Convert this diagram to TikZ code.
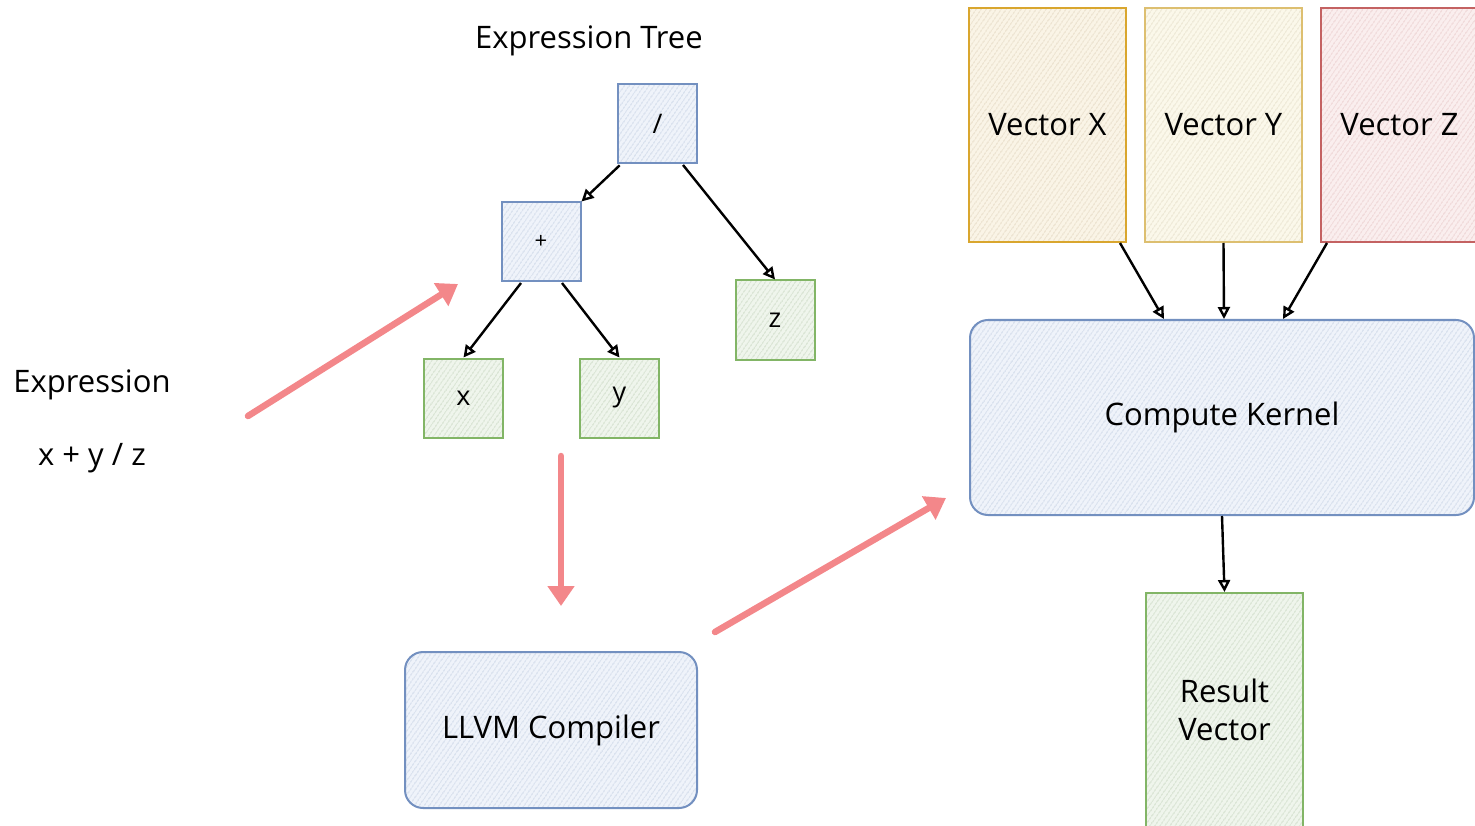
\documentclass[tikz,border=0pt]{standalone}
\usepackage{fontspec}
\setmainfont{Open Sans}
\usetikzlibrary{arrows.meta,patterns.meta}

\definecolor{bluedraw}{HTML}{7390C0}
\definecolor{bluefill}{HTML}{EFF3FA}
\definecolor{bluehatch}{HTML}{B9C6DD}
\definecolor{greendraw}{HTML}{82B566}
\definecolor{greenfill}{HTML}{EFF5EC}
\definecolor{greenhatch}{HTML}{BACCB1}
\definecolor{golddraw}{HTML}{D9A62E}
\definecolor{goldfill}{HTML}{FAF4E6}
\definecolor{goldhatch}{HTML}{D9CCB2}
\definecolor{yellowdraw}{HTML}{DDBF70}
\definecolor{yellowfill}{HTML}{FBF8EA}
\definecolor{yellowhatch}{HTML}{DAD2B9}
\definecolor{reddraw}{HTML}{C46262}
\definecolor{redfill}{HTML}{FAEEEE}
\definecolor{redhatch}{HTML}{E2BDBD}
\definecolor{flow}{HTML}{F3878A}

\tikzset{
  hatchbox/.style n args={3}{draw=#1, line width=2pt,
    preaction={fill=#2},
    pattern={Lines[angle=55,distance=4pt,line width=0.7pt]},
    pattern color=#3},
  opnode/.style={hatchbox={bluedraw}{bluefill}{bluehatch},
    minimum width=79pt, minimum height=79pt, inner sep=0pt, font=\fontsize{27}{32}\selectfont},
  leafnode/.style={hatchbox={greendraw}{greenfill}{greenhatch},
    minimum width=79pt, minimum height=79pt, inner sep=0pt, font=\fontsize{27}{32}\selectfont},
  vecbox/.style={minimum width=157pt, minimum height=234pt, inner sep=0pt,
    font=\fontsize{31}{38}\selectfont},
  roundbox/.style={hatchbox={bluedraw}{bluefill}{bluehatch}, rounded corners=18pt,
    inner sep=0pt, font=\fontsize{31}{38}\selectfont},
  label/.style={inner sep=0pt, font=\fontsize{31}{38}\selectfont},
  link/.style={line width=2.4pt, -{Triangle[open,length=12pt,width=12pt]}},
  bigflow/.style={draw=flow, line width=6.5pt, line cap=round,
    -{Triangle[length=20pt,width=26pt]}},
}

\begin{document}
\begin{tikzpicture}[x=1pt,y=-1pt]
\useasboundingbox (0,0) rectangle (1475,826);

% expression tree
\node[label] (title) at (589,41) {Expression Tree};
\node[opnode] (div) at (657.5,123.5) {/};
\node[opnode, font=\fontsize{22}{26}\selectfont] (plus) at (541,242) {+};
\node[leafnode] (z) at (775,320) {z};
\node[leafnode] (x) at (463.5,398) {x};
\node[leafnode] (y) at (619.5,398) {y};

\draw[link] (div.south west) ++(2,2) -- (plus.north east);
\draw[link] (683,165) -- (z.north);
\draw[link] (521,283) -- (x.north);
\draw[link] (562,283) -- (y.north);

% input expression
\node[label] (exprlabel) at (92,385) {Expression};
\node[label] (exprtext) at (92,458) {x + y / z};

% compiler
\node[roundbox, minimum width=292pt, minimum height=156pt] (llvm) at (551,730) {LLVM Compiler};

% vectors and kernel
\node[vecbox, hatchbox={golddraw}{goldfill}{goldhatch}] (vx) at (1047.5,125) {Vector X};
\node[vecbox, hatchbox={yellowdraw}{yellowfill}{yellowhatch}] (vy) at (1223.5,125) {Vector Y};
\node[vecbox, hatchbox={reddraw}{redfill}{redhatch}] (vz) at (1399.5,125) {Vector Z};
\node[roundbox, minimum width=504pt, minimum height=195pt] (kernel) at (1222,417.5) {Compute Kernel};
\node[vecbox, hatchbox={greendraw}{greenfill}{greenhatch}, align=center] (res) at (1224.5,710) {Result\\Vector};

\coordinate (kx) at (1164,319);
\coordinate (ky) at (1224,319);
\coordinate (kz) at (1283,319);
\draw[link] (1120,243) -- (kx);
\draw[link] (vy.south) -- (ky);
\draw[link] (1327,243) -- (kz);
\draw[link] (kernel.south) -- (res.north);

% main flow
\coordinate (f1a) at (248,416);
\coordinate (f1b) at (458,284);
\coordinate (f2a) at (561,456);
\coordinate (f2b) at (561,606);
\coordinate (f3a) at (715,632);
\coordinate (f3b) at (946,498);
\draw[bigflow] (f1a) -- (f1b);
\draw[bigflow] (f2a) -- (f2b);
\draw[bigflow] (f3a) -- (f3b);
\end{tikzpicture}
\end{document}
